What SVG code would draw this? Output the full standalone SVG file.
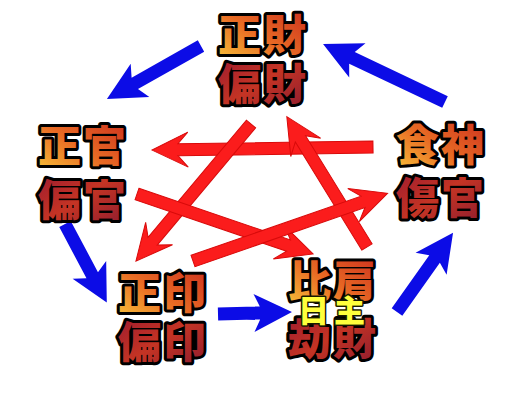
<svg xmlns="http://www.w3.org/2000/svg" width="528" height="408" viewBox="0 0 528 408">
<defs>
<linearGradient id="g1" x1="0" y1="1" x2="1" y2="0">
<stop offset="0" stop-color="#f8c43a"/>
<stop offset="0.45" stop-color="#e86a24"/>
<stop offset="1" stop-color="#c8281e"/>
</linearGradient>
<linearGradient id="g2" x1="0" y1="0" x2="1" y2="1">
<stop offset="0" stop-color="#9a1830"/>
<stop offset="0.5" stop-color="#c43424"/>
<stop offset="1" stop-color="#8a1a30"/>
</linearGradient>
</defs>
<style>
.t{font-family:"Noto Sans CJK JP","Noto Sans CJK SC",sans-serif;font-weight:900;font-size:43px;text-anchor:middle;stroke:#000;stroke-width:6;stroke-linejoin:round;paint-order:stroke fill;letter-spacing:2px}
.a{fill:url(#g1)}
.b{fill:url(#g2)}
.y{font-family:"Noto Sans CJK JP","Noto Sans CJK SC",sans-serif;font-weight:900;font-size:31px;text-anchor:middle;fill:#ffff3c;stroke:#1a1a00;stroke-width:3;stroke-linejoin:round;paint-order:stroke fill;letter-spacing:5px}
.red{fill:#fb1c1c;stroke:#d80a0a;stroke-width:1}
.blue{fill:#0c0ce6}
</style>
<g id="connectors">
<g transform="translate(373,147) rotate(179.2)"><polygon class="red" points="0,-6 195,-6 185,-17.5 221,0 185,17.5 195,6 0,6"/></g>
<g transform="translate(251,124) rotate(130)"><polygon class="red" points="0,-6 153,-6 143,-17.5 179,0 143,17.5 153,6 0,6"/></g>
<g transform="translate(367,247) rotate(-121.6)"><polygon class="red" points="0,-6 127,-6 117,-17.5 153,0 117,17.5 127,6 0,6"/></g>
<g transform="translate(137,194) rotate(18.8)"><polygon class="red" points="0,-6 160,-6 150,-17.5 186,0 150,17.5 160,6 0,6"/></g>
<g transform="translate(193,261) rotate(-19.2)"><polygon class="red" points="0,-6 180,-6 170,-17.5 206,0 170,17.5 180,6 0,6"/></g>
<g transform="translate(201,46) rotate(150.6)"><polygon class="blue" points="0,-6.5 76,-6.5 70,-19 108,0 70,19 76,6.5 0,6.5"/></g>
<g transform="translate(445,102) rotate(-154.6)"><polygon class="blue" points="0,-6.5 103,-6.5 97,-19 135,0 97,19 103,6.5 0,6.5"/></g>
<g transform="translate(65,224) rotate(62)"><polygon class="blue" points="0,-6.5 58,-6.5 52,-19 89,0 52,19 58,6.5 0,6.5"/></g>
<g transform="translate(218,314) rotate(-1.5)"><polygon class="blue" points="0,-6.5 42,-6.5 36,-19 74,0 36,19 42,6.5 0,6.5"/></g>
<g transform="translate(397,312) rotate(-54.7)"><polygon class="blue" points="0,-6.5 65,-6.5 59,-19 97,0 59,19 65,6.5 0,6.5"/></g>
</g>
<g id="node-cai">
<text class="t a" x="263" y="51">正財</text>
<text class="t b" x="263" y="100">偏財</text>
</g>
<g id="node-guan">
<text class="t a" x="83" y="162">正官</text>
<text class="t b" x="83" y="216">偏官</text>
</g>
<g id="node-shishen">
<text class="t a" x="441" y="161">食神</text>
<text class="t b" x="441" y="214">傷官</text>
</g>
<g id="node-yin">
<text class="t a" x="163" y="309">正印</text>
<text class="t b" x="163" y="358">偏印</text>
</g>
<g id="node-bijian">
<text class="t a" x="333" y="297">比肩</text>
<text class="t b" x="333" y="355">劫財</text>
<text class="y" x="334" y="322">日主</text>
</g>
</svg>
